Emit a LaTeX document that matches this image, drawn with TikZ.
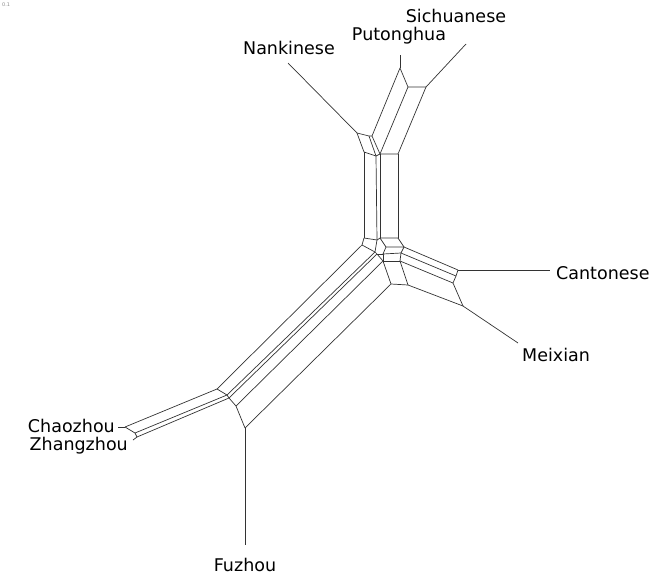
\documentclass[tikz,border=0pt]{standalone}
\usepackage{fontspec}
\setmainfont{DejaVu Sans}
\begin{document}
\begin{tikzpicture}[x=1pt,y=-1pt,
  net/.style={line width=0.7pt, black!80, line join=round},
  taxon/.style={font=\fontsize{17.5}{20}\selectfont, inner sep=0pt, text=black},
  scalelbl/.style={font=\fontsize{5}{6}\selectfont, inner sep=0pt, text=black!45}]
\useasboundingbox (0,0) rectangle (649,576);

% ---- leaves (outer ends of pendant edges)
\coordinate (Nt) at (288,63);
\coordinate (Pt) at (400,55);
\coordinate (St) at (466,44);
\coordinate (Ct) at (550,270);
\coordinate (Mt) at (518,343);
\coordinate (Ft) at (245,545);
\coordinate (Cht) at (118,427);
\coordinate (Zt) at (133,440);

% ---- upper block (Nankinese / Putonghua / Sichuanese)
\coordinate (N0) at (357,133);
\coordinate (P0) at (400,68);
\coordinate (S0) at (426,87);
\coordinate (t2) at (369,136);
\coordinate (t3) at (372,136);
\coordinate (t4) at (408,87);
\coordinate (t5) at (364,152);
\coordinate (t6) at (376,156);
\coordinate (t7) at (380,154);
\coordinate (t8) at (398,154);
\coordinate (u5) at (364,238);
\coordinate (u6) at (377,240);
\coordinate (u7) at (380,238);
\coordinate (u8) at (398,238);

% ---- central hub
\coordinate (h1) at (362,245);
\coordinate (h2) at (375,252);
\coordinate (h3) at (377,254);
\coordinate (h4) at (383,261);
\coordinate (h5) at (391,284);
\coordinate (w1) at (386,247);
\coordinate (w2) at (383,254);
\coordinate (g1) at (404,247);
\coordinate (g2) at (401,253);
\coordinate (g3) at (400,261);
\coordinate (g4) at (408,285);

% ---- Cantonese / Meixian block
\coordinate (C0) at (458,270);
\coordinate (c2) at (456,276);
\coordinate (c3) at (453,283);
\coordinate (M0) at (463,306);

% ---- lower-left blocks (Fuzhou / Zhangzhou / Chaozhou)
\coordinate (l1) at (217,389);
\coordinate (l2) at (227,395);
\coordinate (l3) at (229,398);
\coordinate (l4) at (236,406);
\coordinate (F0) at (245,428);
\coordinate (Ch0) at (125,427);
\coordinate (q2) at (135,433);
\coordinate (q3) at (137,437);

% pendant edges
\draw[net] (N0) -- (Nt);
\draw[net] (P0) -- (Pt);
\draw[net] (S0) -- (St);
\draw[net] (C0) -- (Ct);
\draw[net] (M0) -- (Mt);
\draw[net] (F0) -- (Ft);
\draw[net] (Ch0) -- (Cht);
\draw[net] (q3) -- (Zt);

% upper block
\draw[net] (N0) -- (t2) -- (t3) -- (P0) -- (t4) -- (S0);
\draw[net] (N0) -- (t5);
\draw[net] (t2) -- (t6);
\draw[net] (t3) -- (t7);
\draw[net] (t4) -- (t7);
\draw[net] (S0) -- (t8);
\draw[net] (t5) -- (t6) -- (t7) -- (t8);
\draw[net] (t5) -- (u5);
\draw[net] (t6) -- (u6);
\draw[net] (t7) -- (u7);
\draw[net] (t8) -- (u8);
\draw[net] (u5) -- (u6) -- (u7) -- (u8);

% hub
\draw[net] (u5) -- (h1) -- (h2) -- (h3) -- (h4) -- (h5);
\draw[net] (u6) -- (h2);
\draw[net] (u7) -- (w1) -- (g1);
\draw[net] (u8) -- (g1) -- (g2) -- (g3) -- (g4);
\draw[net] (w1) -- (w2) -- (g2);
\draw[net] (h3) -- (w2) -- (h4);
\draw[net] (h4) -- (g3);
\draw[net] (h5) -- (g4);

% Cantonese / Meixian band
\draw[net] (g1) -- (C0);
\draw[net] (g2) -- (c2);
\draw[net] (g3) -- (c3);
\draw[net] (g4) -- (M0);
\draw[net] (C0) -- (c2) -- (c3) -- (M0);

% long band towards the south-west
\draw[net] (h1) -- (l1);
\draw[net] (h2) -- (l2);
\draw[net] (h3) -- (l3);
\draw[net] (h4) -- (l4);
\draw[net] (h5) -- (F0);
\draw[net] (l1) -- (l2) -- (l3) -- (l4) -- (F0);

% Chaozhou / Zhangzhou band
\draw[net] (l1) -- (Ch0);
\draw[net] (l2) -- (q2);
\draw[net] (l3) -- (q3);
\draw[net] (Ch0) -- (q2) -- (q3);

% labels
\node[taxon] (lN) at (289,48) {Nankinese};
\node[taxon] (lP) at (399,36) {Putonghua};
\node[taxon] (lS) at (456,16) {Sichuanese};
\node[taxon, anchor=west] (lC) at (556,273) {Cantonese};
\node[taxon, anchor=west] (lM) at (522,355) {Meixian};
\node[taxon] (lF) at (245,565) {Fuzhou};
\node[taxon, anchor=base east] (lCh) at (115,432) {Chaozhou};
\node[taxon, anchor=base east] (lZ) at (128,450) {Zhangzhou};
\node[scalelbl, anchor=north west] (sc) at (2,3) {0.1};
\end{tikzpicture}
\end{document}
